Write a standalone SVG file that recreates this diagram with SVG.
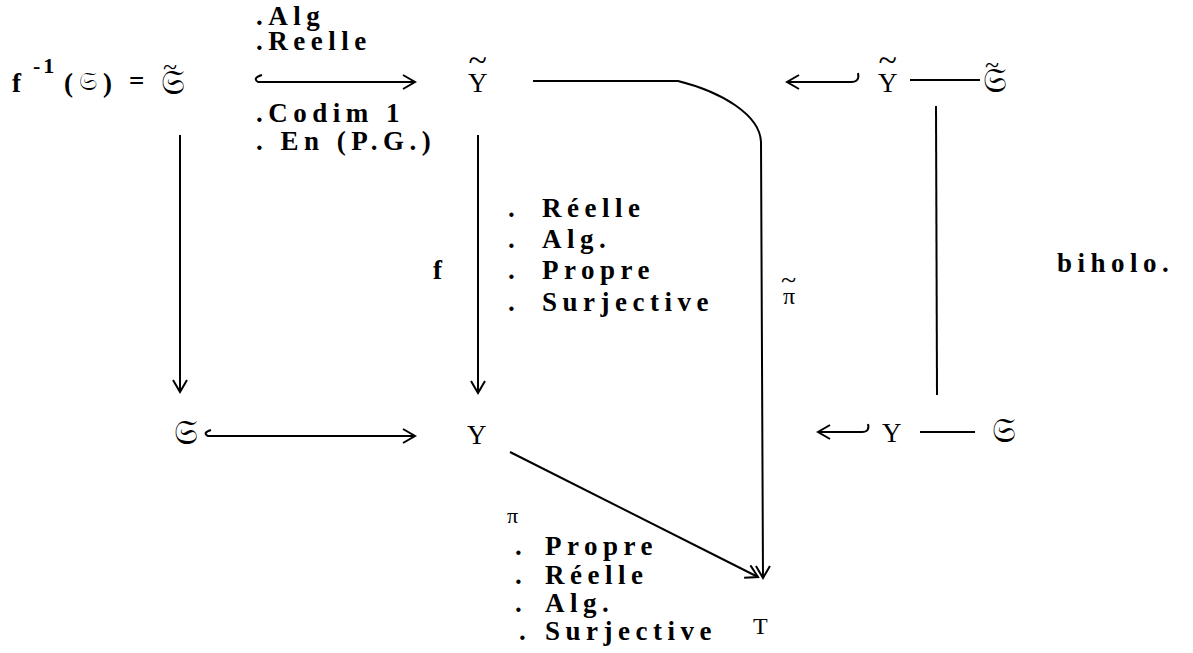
<svg xmlns="http://www.w3.org/2000/svg" width="1193" height="653" viewBox="0 0 1193 653">
<defs>
<style>
.t{font-family:"Liberation Serif","DejaVu Serif",serif;font-weight:bold;font-size:27px;letter-spacing:5.5px;fill:#000}
.s{font-family:"Liberation Serif","DejaVu Serif",serif;font-size:27px;fill:#000}
.fr{font-family:"DejaVu Serif","DejaVu Sans","Noto Sans",serif;font-size:34px;fill:#000}
.td{font-family:"Liberation Serif","DejaVu Serif",serif;font-weight:normal;letter-spacing:0}
.ln{fill:none;stroke:#000;stroke-width:2}
</style>
<marker id="ah" markerUnits="userSpaceOnUse" markerWidth="16" markerHeight="18" refX="13" refY="8" orient="auto">
<path d="M1,1 L13,8 L1,15" fill="none" stroke="#000" stroke-width="2"/>
</marker>
</defs>
<rect width="1193" height="653" fill="#fff"/>
<g id="connectors">
<path class="ln" d="M262 75 Q252 78 258 82 L415 82" marker-end="url(#ah)"/>
<path class="ln" d="M180 135 L180 392" marker-end="url(#ah)"/>
<path class="ln" d="M478 135 L478 393" marker-end="url(#ah)"/>
<path class="ln" d="M211 430 Q202 433 208 436 L415 436" marker-end="url(#ah)"/>
<path class="ln" d="M533 81 L678 81 C722 92 760 115 761 142 L763 578" marker-end="url(#ah)"/>
<path class="ln" d="M510 452 L758 577" marker-end="url(#ah)"/>
<path class="ln" d="M851 82 Q860 82 858 73 M851 82 L787 82" marker-end="url(#ah)"/>
<path class="ln" d="M910 80 L980 80"/>
<path class="ln" d="M936 106 L937 395"/>
<path class="ln" d="M862 432 Q870 432 868 424 M862 432 L818 432" marker-end="url(#ah)"/>
<path class="ln" d="M920 432 L975 432"/>
</g>
<g id="node-ftilde">
<text class="t" x="12" y="92">f</text>
<text class="t" x="33" y="73" style="font-size:22px;letter-spacing:3px">-1</text>
<text class="t" x="64" y="92">(</text>
<text class="fr" x="79" y="90" style="font-size:26px">𝔖</text>
<text class="t" x="103" y="92">)</text>
<text class="t" x="129" y="90">=</text>
<text class="fr" x="161" y="94">𝔖<tspan class="td" dx="-22" dy="-19" style="font-size:26px">~</tspan></text>
</g>
<g id="label-top">
<text class="t" x="256" y="25">.Alg</text>
<text class="t" x="256" y="50">.Reelle</text>
<text class="t" x="256" y="122">.Codim 1</text>
<text class="t" x="256" y="150">. En (P.G.)</text>
</g>
<g id="node-Ytilde">
<text class="s" x="468" y="92">Y<tspan dx="-19" dy="-21" style="font-size:34px">~</tspan></text>
</g>
<g id="label-f">
<text class="t" x="433" y="279">f</text>
<text class="t" x="508" y="217">.</text><text class="t" x="542" y="217">Réelle</text>
<text class="t" x="508" y="248">.</text><text class="t" x="542" y="248">Alg.</text>
<text class="t" x="508" y="279">.</text><text class="t" x="542" y="279">Propre</text>
<text class="t" x="508" y="311">.</text><text class="t" x="542" y="311">Surjective</text>
</g>
<g id="label-pitilde">
<text class="s" x="781" y="304" style="font-size:24px">π<tspan dx="-14" dy="-15" style="font-size:28px">~</tspan></text>
</g>
<g id="node-S">
<text class="fr" x="174" y="444">𝔖</text>
</g>
<g id="node-Y">
<text class="s" x="467" y="444">Y</text>
</g>
<g id="label-pi">
<text class="s" x="507" y="523" style="font-size:22px">π</text>
<text class="t" x="515" y="555">.</text><text class="t" x="545" y="555">Propre</text>
<text class="t" x="515" y="584">.</text><text class="t" x="545" y="584">Réelle</text>
<text class="t" x="515" y="612">.</text><text class="t" x="545" y="612">Alg.</text>
<text class="t" x="519" y="640">.</text><text class="t" x="545" y="640">Surjective</text>
</g>
<g id="node-T">
<text class="s" x="753" y="634" style="font-size:24px">T</text>
</g>
<g id="node-Ytilde-right">
<text class="s" x="878" y="92">Y<tspan dx="-19" dy="-21" style="font-size:34px">~</tspan></text>
<text class="fr" x="983" y="92">𝔖<tspan class="td" dx="-22" dy="-19" style="font-size:26px">~</tspan></text>
</g>
<g id="label-biholo">
<text class="t" x="1057" y="272">biholo.</text>
</g>
<g id="node-Y-right">
<text class="s" x="882" y="442">Y</text>
<text class="fr" x="992" y="442">𝔖</text>
</g>
</svg>
